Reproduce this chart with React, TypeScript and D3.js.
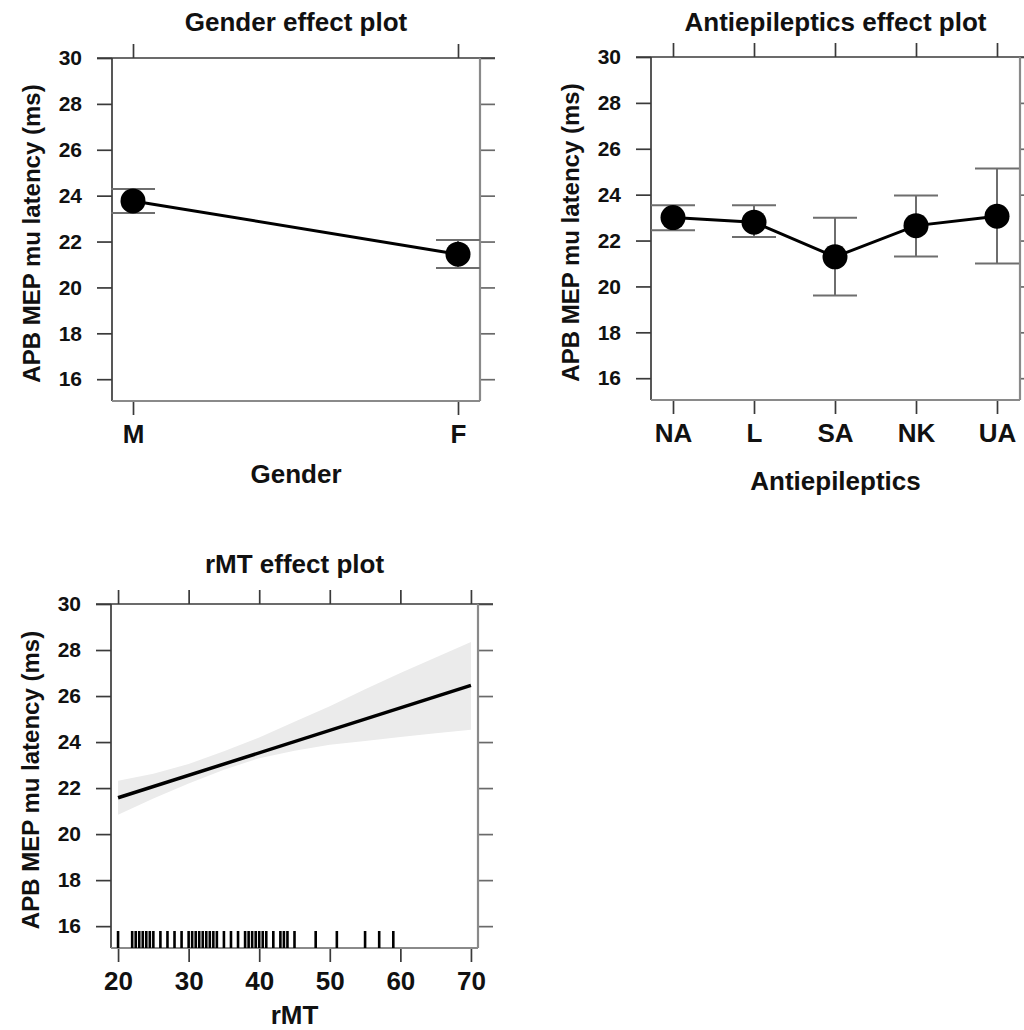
import { useEffect, useRef } from "react";
import * as d3 from "d3";

const Y_TICKS = [16, 18, 20, 22, 24, 26, 28, 30];
const Y_DOMAIN = [15.05, 30];

const GENDER = ["M", "F"];
const GENDER_FIT = [23.77, 21.45];
const GENDER_LO = [23.24, 20.85];
const GENDER_HI = [24.29, 22.07];

const DRUGS = ["NA", "L", "SA", "NK", "UA"];
const DRUG_FIT = [23.0, 22.8, 21.29, 22.65, 23.06];
const DRUG_LO = [22.45, 22.15, 19.6, 21.3, 21.0];
const DRUG_HI = [23.54, 23.54, 22.99, 23.96, 25.14];

const RMT_TICKS = [20, 30, 40, 50, 60, 70];
const FIT_X = [20, 70];
const FIT_Y = [21.58, 26.46];
const BAND_X = [20, 25, 30, 35, 40, 45, 50, 55, 60, 65, 70];
const BAND_LO = [20.84, 21.55, 22.2, 22.8, 23.3, 23.62, 23.88, 24.05, 24.22, 24.38, 24.53];
const BAND_HI = [22.32, 22.62, 23.05, 23.6, 24.2, 24.88, 25.56, 26.3, 27.0, 27.68, 28.35];
const RUG = [
  20, 22, 22.5, 23, 23.5, 24, 24.5, 25, 26, 27, 28, 29, 30, 30.5, 31, 31.5, 32, 32.5,
  33, 33.5, 34, 35, 36, 37, 38, 38.5, 39, 39.5, 40, 40.5, 41, 42, 43, 43.5, 44, 45,
  48, 51, 55, 57, 59,
];

const FONT = "'Liberation Sans', Arial, sans-serif";
const Y_LABEL = "APB MEP mu latency (ms)";

type Box = { left: number; right: number; top: number; bottom: number };

function panel(svg, box: Box, x, xTicks, title: string, titleY: number, xLabel: string, xLabelY: number) {
  const y = d3.scaleLinear().domain(Y_DOMAIN).range([box.bottom, box.top]);
  const g = svg.append("g");

  // left axis with labels
  const left = g.append("g")
    .attr("transform", `translate(${box.left},0)`)
    .call(d3.axisLeft(y).tickValues(Y_TICKS).tickSize(15).tickPadding(15).tickFormat(d3.format("d")));
  left.selectAll("line").attr("stroke", "#3a3a3a").attr("stroke-width", 1.7);
  left.selectAll("text").attr("font-size", 21).attr("font-weight", "bold").attr("font-family", FONT).attr("fill", "#111");

  // right axis, no labels
  const right = g.append("g")
    .attr("transform", `translate(${box.right},0)`)
    .call(d3.axisRight(y).tickValues(Y_TICKS).tickSize(15).tickFormat(() => ""));
  right.selectAll("line").attr("stroke", "#6a6a6a").attr("stroke-width", 1.7);

  // top axis, no labels
  const top = g.append("g")
    .attr("transform", `translate(0,${box.top})`)
    .call(d3.axisTop(x).tickValues(xTicks).tickSize(14).tickFormat(() => ""));
  top.selectAll("line").attr("stroke", "#3a3a3a").attr("stroke-width", 1.7);

  // bottom axis with labels
  const bottom = g.append("g")
    .attr("transform", `translate(0,${box.bottom})`)
    .call(d3.axisBottom(x).tickValues(xTicks).tickSize(14).tickPadding(10).tickFormat(d => String(d)));
  bottom.selectAll("line").attr("stroke", "#3a3a3a").attr("stroke-width", 1.7);
  bottom.selectAll("text").attr("font-size", 26).attr("font-weight", "bold").attr("font-family", FONT).attr("fill", "#111");

  g.selectAll(".domain").remove();

  // frame: left/top dark, right/bottom lighter
  g.append("line").attr("x1", box.left).attr("x2", box.left).attr("y1", box.top).attr("y2", box.bottom)
    .attr("stroke", "#3a3a3a").attr("stroke-width", 1.7);
  g.append("line").attr("x1", box.left - 15).attr("x2", box.right + 15).attr("y1", box.top).attr("y2", box.top)
    .attr("stroke", "#3a3a3a").attr("stroke-width", 1.7);
  g.append("line").attr("x1", box.right).attr("x2", box.right).attr("y1", box.top).attr("y2", box.bottom)
    .attr("stroke", "#8a8a8a").attr("stroke-width", 2.2);
  g.append("line").attr("x1", box.left).attr("x2", box.right).attr("y1", box.bottom).attr("y2", box.bottom)
    .attr("stroke", "#8a8a8a").attr("stroke-width", 2.2);

  const cx = (box.left + box.right) / 2;
  g.append("text").attr("x", cx).attr("y", titleY).attr("text-anchor", "middle")
    .attr("font-size", 26).attr("font-weight", "bold").attr("font-family", FONT).attr("fill", "#111")
    .text(title);
  g.append("text").attr("x", cx).attr("y", xLabelY).attr("text-anchor", "middle")
    .attr("font-size", 26).attr("font-weight", "bold").attr("font-family", FONT).attr("fill", "#111")
    .text(xLabel);
  const cy = (box.top + box.bottom) / 2 + 4;
  g.append("text").attr("transform", `translate(${box.left - 72},${cy}) rotate(-90)`)
    .attr("text-anchor", "middle")
    .attr("font-size", 24).attr("font-weight", "bold").attr("font-family", FONT).attr("fill", "#111")
    .text(Y_LABEL);

  return { g, y };
}

function factorMarks(g, x, y, cats: string[], fit: number[], lo: number[], hi: number[]) {
  const rows = cats.map((c, i) => ({ c, fit: fit[i], lo: lo[i], hi: hi[i] }));
  const bars = g.append("g").attr("stroke", "#6e6e6e").attr("stroke-width", 2);
  bars.selectAll(".v").data(rows).join("line").attr("class", "v")
    .attr("x1", d => x(d.c)).attr("x2", d => x(d.c)).attr("y1", d => y(d.lo)).attr("y2", d => y(d.hi));
  bars.selectAll(".hi").data(rows).join("line").attr("class", "hi")
    .attr("x1", d => x(d.c) - 22).attr("x2", d => x(d.c) + 22).attr("y1", d => y(d.hi)).attr("y2", d => y(d.hi));
  bars.selectAll(".lo").data(rows).join("line").attr("class", "lo")
    .attr("x1", d => x(d.c) - 22).attr("x2", d => x(d.c) + 22).attr("y1", d => y(d.lo)).attr("y2", d => y(d.lo));

  const line = d3.line<any>().x(d => x(d.c)).y(d => y(d.fit));
  g.append("path").datum(rows).attr("d", line).attr("fill", "none").attr("stroke", "#000").attr("stroke-width", 3);
  g.selectAll(".pt").data(rows).join("circle").attr("class", "pt")
    .attr("cx", d => x(d.c)).attr("cy", d => y(d.fit)).attr("r", 12.5).attr("fill", "#000");
}

export default function App() {
  const ref = useRef<SVGSVGElement>(null);

  useEffect(() => {
    const svg = d3.select(ref.current);
    svg.selectAll("*").remove();

    // Gender
    const b1 = { left: 112, right: 480, top: 58, bottom: 401 };
    const x1 = d3.scalePoint().domain(GENDER).range([b1.left + 21, b1.right - 22]);
    const p1 = panel(svg, b1, x1, GENDER, "Gender effect plot", 31, "Gender", 483);
    factorMarks(p1.g, x1, p1.y, GENDER, GENDER_FIT, GENDER_LO, GENDER_HI);

    // Antiepileptics
    const b2 = { left: 651, right: 1020, top: 57, bottom: 400 };
    const x2 = d3.scalePoint().domain(DRUGS).range([b2.left + 22, b2.right - 23]);
    const p2 = panel(svg, b2, x2, DRUGS, "Antiepileptics effect plot", 31, "Antiepileptics", 490);
    factorMarks(p2.g, x2, p2.y, DRUGS, DRUG_FIT, DRUG_LO, DRUG_HI);

    // rMT
    const b3 = { left: 111, right: 478, top: 604, bottom: 948 };
    const x3 = d3.scaleLinear().domain([19, 71]).range([b3.left, b3.right]);
    const p3 = panel(svg, b3, x3, RMT_TICKS, "rMT effect plot", 573, "rMT", 1024);

    const band = d3.area<number>()
      .x((d, i) => x3(BAND_X[i]))
      .y0((d, i) => p3.y(BAND_LO[i]))
      .y1((d, i) => p3.y(BAND_HI[i]));
    p3.g.insert("path", ":first-child").datum(BAND_X).attr("d", band).attr("fill", "#ebebeb");

    const fit = d3.line<number>().x((d, i) => x3(FIT_X[i])).y((d, i) => p3.y(FIT_Y[i]));
    p3.g.append("path").datum(FIT_X).attr("d", fit).attr("fill", "none").attr("stroke", "#000").attr("stroke-width", 3.5);

    p3.g.append("g").selectAll("line").data(RUG).join("line")
      .attr("x1", d => x3(d)).attr("x2", d => x3(d))
      .attr("y1", b3.bottom).attr("y2", b3.bottom - 17)
      .attr("stroke", "#000").attr("stroke-width", 2.6);
  }, []);

  return (
    <svg ref={ref} width={1024} height={1030}
      style={{ position: "absolute", left: 0, top: 0, background: "#fff" }} />
  );
}
